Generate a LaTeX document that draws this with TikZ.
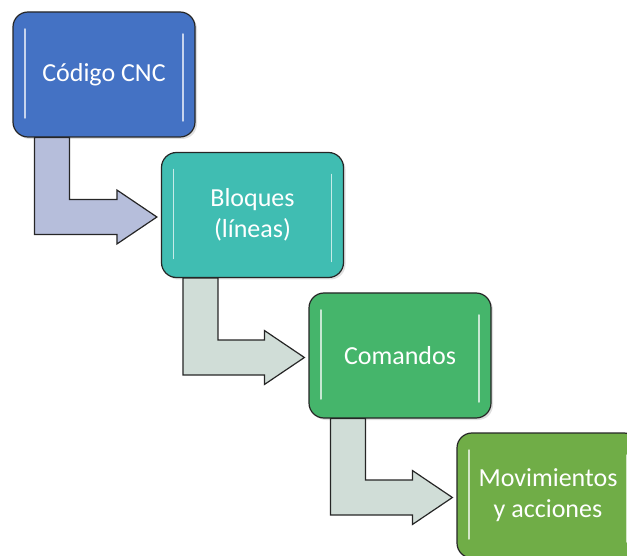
\documentclass[tikz,border=0pt]{standalone}
\usepackage{fontspec}
\setmainfont{Carlito}
\usepackage{tikz}
\usetikzlibrary{calc, shadows}

\definecolor{cncblue}{HTML}{4472C4}
\definecolor{blockteal}{HTML}{40BDB2}
\definecolor{cmdgreen}{HTML}{45B56B}
\definecolor{actgreen}{HTML}{70AD47}
\definecolor{arrowblue}{HTML}{B6BEDB}
\definecolor{arrowgrey}{HTML}{D0DDD7}

\newcommand{\bentconn}[3]{%
  \filldraw[conn, fill=#3] let \p1=(#1.south west), \p2=(#2.west) in
    (\x1+22pt,\y1) -- (\x1+57pt,\y1) -- (\x1+57pt,\y2+15.5pt)
    -- (\x2-44pt,\y2+15.5pt) -- (\x2-44pt,\y2+25pt) -- (\x2-4pt,\y2-2pt)
    -- (\x2-44pt,\y2-29pt) -- (\x2-44pt,\y2-19.5pt) -- (\x1+22pt,\y2-19.5pt) -- cycle;}

\begin{document}
\begin{tikzpicture}[x=1pt, y=-1pt,
    stepbox/.style={draw=black!85, line width=1.2pt, rounded corners=15pt,
      minimum width=182pt, minimum height=125pt, inner sep=0pt, align=center,
      text=white, font=\fontsize{26}{31}\selectfont,
      drop shadow={opacity=0.25, shadow xshift=2pt, shadow yshift=-2pt},
      path picture={
        \draw[white, opacity=.7, line width=1.5pt, line cap=round]
          ([xshift=12pt,yshift=-17pt]path picture bounding box.north west)
          -- ([xshift=12pt,yshift=19pt]path picture bounding box.south west)
          ([xshift=-12pt,yshift=-22pt]path picture bounding box.north east)
          -- ([xshift=-12pt,yshift=16pt]path picture bounding box.south east);}},
    conn/.style={draw=black!85, line width=1.2pt, line join=miter}]
      \useasboundingbox (0,0) rectangle (627,556);
      \clip (0,0) rectangle (627,556);

      \node[stepbox, fill=cncblue] (codigo) at (104,74.5) {Código CNC};
      \node[stepbox, fill=blockteal] (bloques) at (252.5,215) {Bloques\\(líneas)};
      \node[stepbox, fill=cmdgreen] (comandos) at (400,355.5) {Comandos};
      \node[stepbox, fill=actgreen] (movim) at (548,495.5) {Movimientos\\y acciones};

      \bentconn{codigo}{bloques}{arrowblue}
      \bentconn{bloques}{comandos}{arrowgrey}
      \bentconn{comandos}{movim}{arrowgrey}
    \end{tikzpicture}
\end{document}
